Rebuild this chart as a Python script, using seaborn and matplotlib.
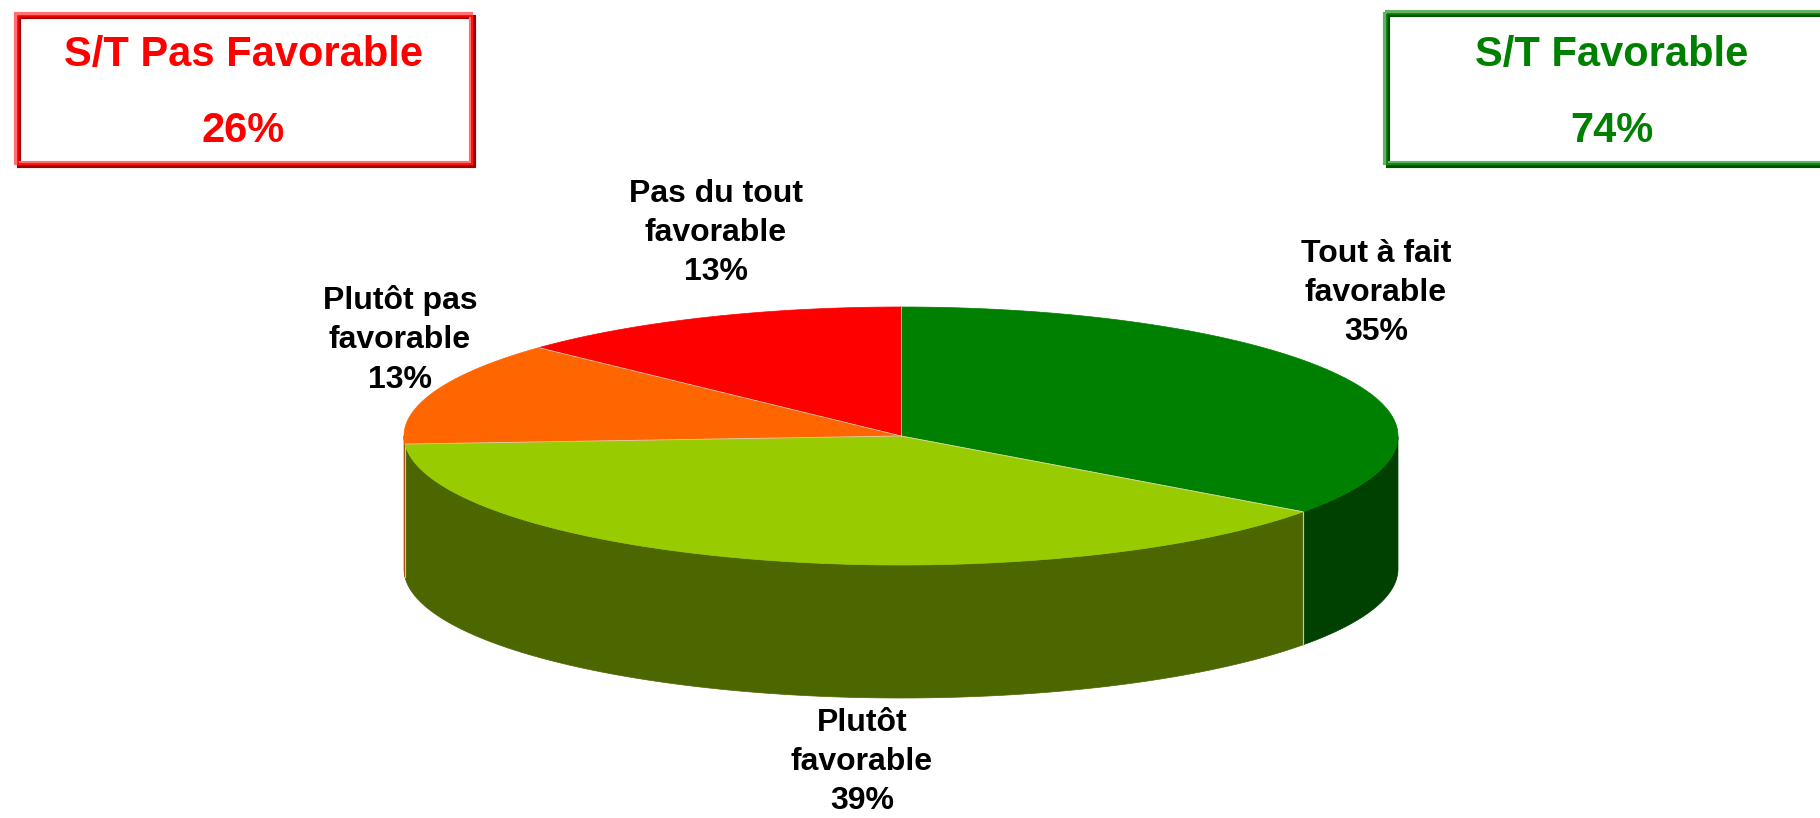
import numpy as np
import matplotlib
matplotlib.use("Agg")
import matplotlib.pyplot as plt
import seaborn as sns
from matplotlib.patches import Polygon, Rectangle

sns.set_style("white")
plt.rcParams['font.family'] = ['Liberation Sans', 'DejaVu Sans']

# data
categories = ["Tout à fait\nfavorable", "Plutôt\nfavorable", "Plutôt pas\nfavorable", "Pas du tout\nfavorable"]
values = [35, 39, 13, 13]
top_colors = ["#008000", "#99CC00", "#FF6600", "#FF0000"]
side_colors = ["#004000", "#4C6600", "#B34700", "#990000"]

summary_labels = ["S/T Pas Favorable", "S/T Favorable"]
summary_values = [26, 74]

# label positions (pixels)
label_pos = [(1376, 293), (862, 762), (400, 340), (716, 233)]

# pie geometry (pixels)
cx, cy = 901, 436
a, b = 497, 129
depth = 133

fig = plt.figure(figsize=(18.2, 8.18), dpi=100)
ax = fig.add_axes([0, 0, 1, 1])
ax.set_xlim(0, 1820)
ax.set_ylim(818, 0)
ax.axis("off")

total = sum(values)
starts = []
t = 90.0
for v in values:
    starts.append(t)
    t -= v / total * 360.0

def pt(deg, dz=0):
    r = np.radians(deg)
    return cx + a * np.cos(r), cy - b * np.sin(r) + dz

# sides (front half only)
for i, v in enumerate(values):
    t0 = starts[i]
    t1 = t0 - v / total * 360.0
    ts = np.linspace(t0, t1, 300)
    ts = ts[np.sin(np.radians(ts)) <= 1e-9]
    if len(ts) < 2:
        continue
    top = [pt(x) for x in ts]
    bot = [pt(x, depth) for x in ts[::-1]]
    ax.add_patch(Polygon(top + bot, closed=True, facecolor=side_colors[i],
                         edgecolor=side_colors[i], linewidth=0.5, zorder=2))
    # vertical seam at slice boundary
    for x in (ts[0], ts[-1]):
        if -1e-6 > np.sin(np.radians(x)) and abs(np.cos(np.radians(x))) < 0.999:
            p0 = pt(x)
            p1 = pt(x, depth)
            ax.plot([p0[0], p1[0]], [p0[1], p1[1]], color="#c8c8a0", lw=0.8, zorder=3)

# tops
for i, v in enumerate(values):
    t0 = starts[i]
    t1 = t0 - v / total * 360.0
    ts = np.linspace(t0, t1, 300)
    poly = [(cx, cy)] + [pt(x) for x in ts]
    ax.add_patch(Polygon(poly, closed=True, facecolor=top_colors[i],
                         edgecolor=top_colors[i], linewidth=0.5, zorder=4))
    p = pt(t0)
    ax.plot([cx, p[0]], [cy, p[1]], color="#d8d8b0", lw=0.6, zorder=5)

# slice labels
for i, v in enumerate(values):
    x, y = label_pos[i]
    ax.text(x, y, f"{categories[i]}\n{v}%", ha="center", va="center",
            fontsize=23, fontweight="bold", color="black", linespacing=1.4, zorder=6)

# summary boxes
boxes = [
    dict(x0=16, y0=14, x1=471, y1=163, col="#FF0000", light="#FF7070", dark="#A00000", cxt=243),
    dict(x0=1385, y0=12, x1=1845, y1=163, col="#008000", light="#66B066", dark="#005000", cxt=1612),
]
for bx, lab, val in zip(boxes, summary_labels, summary_values):
    w = bx["x1"] - bx["x0"]
    h = bx["y1"] - bx["y0"]
    ax.add_patch(Rectangle((bx["x0"] + 3, bx["y0"] + 3), w, h, fill=False,
                           edgecolor=bx["dark"], lw=3, zorder=7))
    ax.add_patch(Rectangle((bx["x0"], bx["y0"]), w, h, fill=False,
                           edgecolor=bx["light"], lw=3, zorder=7))
    ax.add_patch(Rectangle((bx["x0"] + 2, bx["y0"] + 2), w - 1, h - 1, fill=False,
                           edgecolor=bx["col"], lw=1.2, zorder=8))
    ax.text(bx["cxt"], 55, lab, ha="center", va="center", fontsize=30,
            fontweight="bold", color=bx["col"], zorder=9)
    ax.text(bx["cxt"], 131, f"{val}%", ha="center", va="center", fontsize=30,
            fontweight="bold", color=bx["col"], zorder=9)

fig.savefig("out.png", dpi=100, facecolor="white")
